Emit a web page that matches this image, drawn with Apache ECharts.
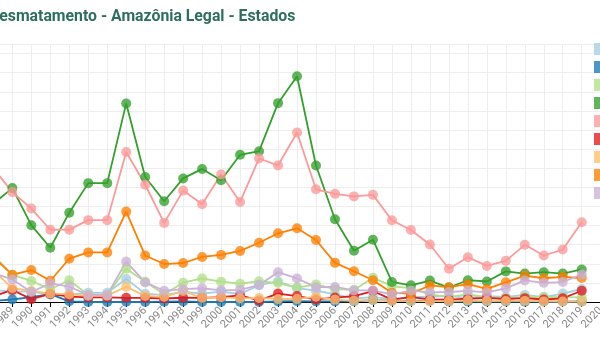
<!DOCTYPE html>
<html>
<head>
<meta charset="utf-8">
<script src="https://cdn.jsdelivr.net/npm/echarts@6/dist/echarts.min.js"></script>
<style>
html,body{margin:0;padding:0;background:#fff;overflow:hidden;width:600px;height:339px;}
#chart{position:absolute;left:-20px;top:0;width:720px;height:339px;}
</style>
</head>
<body>
<div id="chart"></div>
<script>
const years = ['1988','1989','1990','1991','1992','1993','1994','1995','1996','1997','1998','1999','2000','2001','2002','2003','2004','2005','2006','2007','2008','2009','2010','2011','2012','2013','2014','2015','2016','2017','2018','2019','2020'];

const acre       = [620,540,550,380,400,482,482,1208,433,358,536,441,547,419,883,1078,728,592,398,184,254,167,259,280,305,221,309,264,372,257,444,682];
const amapa      = [60,130,250,410,36,0,0,9,0,18,30,0,0,7,0,25,46,33,30,39,100,70,53,66,27,23,31,25,17,24,24,32];
const maranhao   = [2450,1420,1100,670,1135,372,372,1745,1061,409,1012,1230,1065,958,1085,993,755,922,674,631,1271,828,712,396,269,403,257,209,258,265,253,237];
const matoGrosso = [5140,5960,4020,2840,4674,6220,6220,10391,6543,5271,6466,6963,6369,7703,7892,10405,11814,7145,4333,2678,3258,1049,871,1120,757,1139,1075,1601,1489,1561,1490,1702];
const para       = [6990,5750,4890,3780,3787,4284,4284,7845,6135,4139,5829,5111,6671,5237,7510,7145,8870,5899,5659,5526,5607,4281,3770,3008,1741,2346,1887,2153,2992,2433,2744,4172];
const roraima    = [290,630,150,420,281,240,240,220,214,184,223,220,253,345,84,439,311,133,231,309,574,121,256,141,124,170,219,156,202,132,195,590];
const tocantins  = [1650,730,580,440,409,333,333,797,320,273,576,216,244,189,212,156,158,271,124,63,107,61,49,40,52,74,50,57,58,31,25,23];
const rondonia   = [2340,1430,1670,1110,2265,2595,2595,4730,2432,1986,2041,2358,2465,2673,3099,3597,3858,3244,2049,1611,1136,482,435,865,773,932,684,1030,1376,1243,1316,1257];
const amazonas   = [1510,1180,520,980,799,370,370,2114,1023,589,670,720,612,634,885,1558,1232,775,788,610,604,405,595,502,523,583,500,712,1129,1001,1045,1434];

const seriesNames = ['Acre','Amapá','Maranhão','Mato Grosso','Pará','Roraima','Tocantins','Rondônia','Amazonas'];
const seriesData = [acre, amapa, maranhao, matoGrosso, para, roraima, tocantins, rondonia, amazonas];
const colors = ['#a6cee3','#1f78b4','#b2df8a','#33a02c','#fb9a99','#e31a1c','#fdbf6f','#ff7f00','#cab2d6'];

// chart container is shifted 20px left of the page: container x = page x + 20
const chart = echarts.init(document.getElementById('chart'), null, {renderer:'canvas'});
chart.setOption({
  animation: false,
  color: colors,
  textStyle: {fontFamily: 'Roboto'},
  title: {
    text: 'Desmatamento - Amazônia Legal - Estados',
    left: 4, top: 4,
    textStyle: {fontFamily: 'Roboto', fontSize: 15.8, fontWeight: 'bold', color: '#2d6e5e'}
  },
  legend: {
    orient: 'vertical', left: 609, top: 38,
    icon: 'rect', itemWidth: 12, itemHeight: 12, itemGap: 6,
    textStyle: {fontSize: 11, color: '#333'},
    data: seriesNames
  },
  grid: {left: 13.35, right: 99.3, top: 44, bottom: 37, containLabel: false, outerBoundsMode: 'none'},
  xAxis: {
    type: 'category', data: years, boundaryGap: false,
    axisLine: {lineStyle: {color: '#000', width: 1}},
    axisTick: {show: true, length: 5, lineStyle: {color: '#000'}, alignWithLabel: true},
    axisLabel: {rotate: 45, color: '#888', fontSize: 11, fontFamily: 'Roboto', interval: 0, margin: 7},
    splitLine: {show: true, lineStyle: {color: '#eeeeee'}}
  },
  yAxis: {
    type: 'value', min: 0, max: 13500, interval: 1000,
    axisLine: {show: false}, axisTick: {show: false}, axisLabel: {show: false},
    splitLine: {show: true, lineStyle: {color: '#eeeeee'}}
  },
  series: seriesNames.map((n, i) => ({
    name: n, type: 'line', data: seriesData[i],
    symbol: 'circle', symbolSize: 10, showSymbol: true,
    itemStyle: {color: colors[i], opacity: 0.78},
    lineStyle: {color: colors[i], width: 1.8}
  }))
});
</script>
</body>
</html>
